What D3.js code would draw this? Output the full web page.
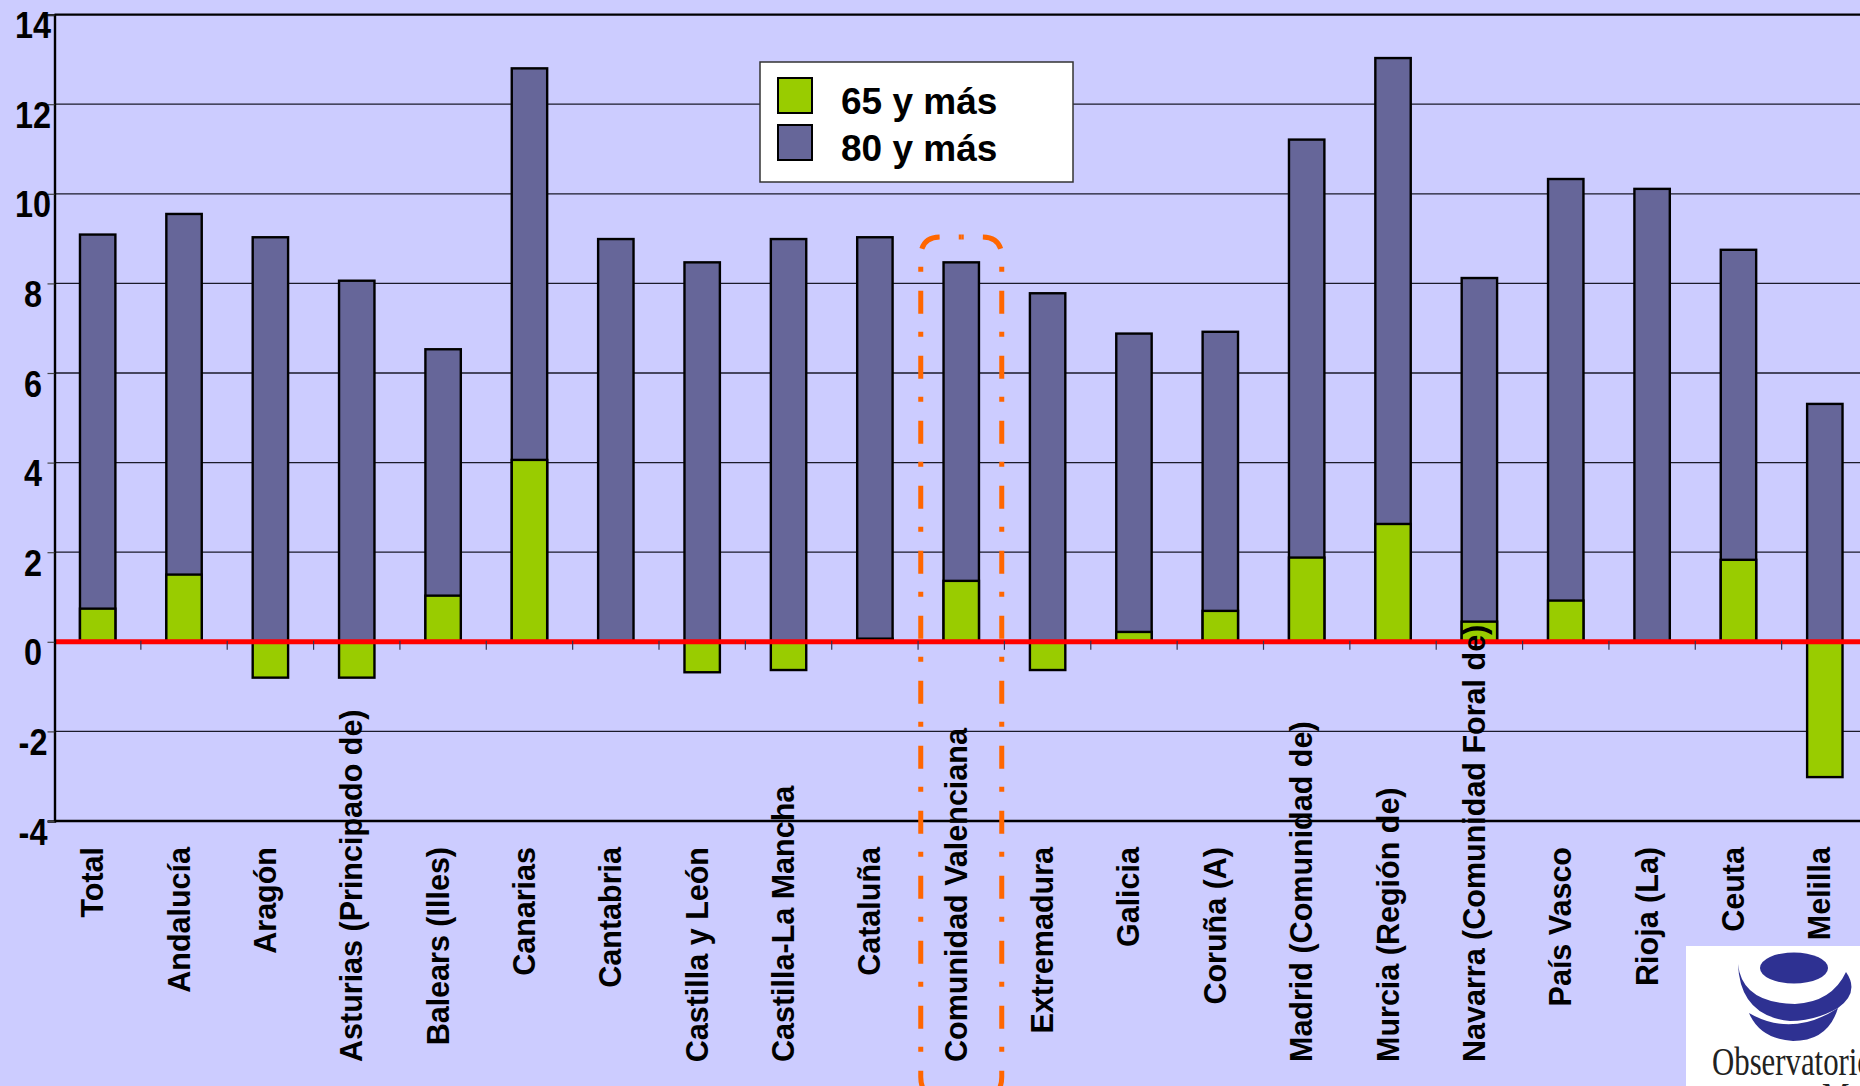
<!DOCTYPE html>
<html>
<head>
<meta charset="utf-8">
<script src="https://cdn.jsdelivr.net/npm/d3@7"></script>
<style>
  html, body { margin: 0; padding: 0; background: #ccccff; overflow: hidden; }
  svg { display: block; }
</style>
</head>
<body>
<svg id="chart" width="1860" height="1086"></svg>
<script>
const categories = ["Total", "Andalucía", "Aragón", "Asturias (Principado de)", "Balears (Illes)",
  "Canarias", "Cantabria", "Castilla y León", "Castilla-La Mancha", "Cataluña",
  "Comunidad Valenciana", "Extremadura", "Galicia", "Coruña (A)", "Madrid (Comunidad de)",
  "Murcia (Región de)", "Navarra (Comunidad Foral de)", "País Vasco", "Rioja (La)", "Ceuta", "Melilla"];
const v65 = [0.74, 1.50, -0.80, -0.80, 1.03, 4.06, 0, -0.68, -0.63, 0.07,
  1.36, -0.63, 0.22, 0.69, 1.88, 2.63, 0.45, 0.92, 0, 1.83, -3.02];
const v80 = [9.09, 9.55, 9.03, 8.06, 6.53, 12.80, 8.99, 8.47, 8.99, 9.03,
  8.47, 7.78, 6.88, 6.92, 11.21, 13.03, 8.12, 10.33, 10.11, 8.75, 5.31];
const yTicks = [-4, -2, 0, 2, 4, 6, 8, 10, 12, 14];
const yTickLabels = ["-4", "-2", "0", "2", "4", "6", "8", "10", "12", "14"];
const seriesNames = ["65 y más", "80 y más"];
const highlighted = "Comunidad Valenciana";

const W = 1860, H = 1086;
const FONT = "'Liberation Sans', Arial, Helvetica, sans-serif";
const C_GREEN = "#99cc00", C_PURPLE = "#666699", C_BG = "#ccccff";

const svg = d3.select("#chart");
svg.append("rect").attr("width", W).attr("height", H).attr("fill", C_BG);

const x = d3.scaleBand().domain(categories).range([54.5, 1868]).padding(0);
const y = d3.scaleLinear().domain([-4, 14]).range([821, 14.6]);
const barW = x.bandwidth() * 0.41;
const plotL = x.range()[0], plotR = x.range()[1];

// gridlines
svg.append("g").selectAll("line").data(yTicks.filter(t => t > -4 && t < 14)).join("line")
  .attr("x1", plotL).attr("x2", plotR)
  .attr("y1", d => y(d)).attr("y2", d => y(d))
  .attr("stroke", "#1a1a2a").attr("stroke-width", 1.3);

const rows = categories.map((c, i) => ({ c, a: v65[i], b: v80[i] }));

function barRect(sel, key, fill) {
  sel.attr("x", d => x(d.c) + (x.bandwidth() - barW) / 2)
    .attr("width", barW)
    .attr("y", d => y(Math.max(0, d[key])))
    .attr("height", d => Math.abs(y(d[key]) - y(0)))
    .attr("fill", fill).attr("stroke", "#000").attr("stroke-width", 2.4);
}
svg.append("g").selectAll("rect").data(rows).join("rect").call(barRect, "b", C_PURPLE);
svg.append("g").selectAll("rect").data(rows.filter(d => d.a !== 0)).join("rect").call(barRect, "a", C_GREEN);

// red zero line
svg.append("line").attr("x1", plotL).attr("x2", plotR).attr("y1", y(0)).attr("y2", y(0))
  .attr("stroke", "#ff0000").attr("stroke-width", 5);

// category ticks at band boundaries
svg.append("g").selectAll("line").data(categories.slice(1)).join("line")
  .attr("x1", d => x(d)).attr("x2", d => x(d))
  .attr("y1", y(0) - 1).attr("y2", y(0) + 8)
  .attr("stroke", "#333355").attr("stroke-width", 1.2);

// frame: top, bottom and left axis
svg.append("line").attr("x1", plotL).attr("x2", plotR).attr("y1", y(14)).attr("y2", y(14))
  .attr("stroke", "#000").attr("stroke-width", 2.2);
svg.append("line").attr("x1", plotL).attr("x2", plotR).attr("y1", y(-4)).attr("y2", y(-4))
  .attr("stroke", "#000").attr("stroke-width", 2.4);

const yAxis = d3.axisLeft(y).tickValues(yTicks).tickSize(7)
  .tickFormat(d => yTickLabels[yTicks.indexOf(d)]);
const ga = svg.append("g").attr("transform", `translate(${plotL},0)`).call(yAxis);
ga.select(".domain").attr("stroke", "#000").attr("stroke-width", 2.4);
ga.selectAll(".tick line").attr("stroke", "#444").attr("stroke-width", 1.2);
ga.selectAll(".tick text")
  .attr("x", null).attr("dy", null)
  .attr("transform", "translate(-21.5,23) scale(0.9,1.04)")
  .attr("text-anchor", "middle")
  .attr("fill", "#000")
  .style("font-family", FONT).style("font-weight", "bold").style("font-size", "36px");

// category labels (rotated)
const labelTop = 847, labelBottomMax = 1072, labelBottomShift = 1062;
const labels = svg.append("g").selectAll("text").data(categories).join("text")
  .text(d => d)
  .style("font-family", FONT).style("font-weight", "bold").style("font-size", "30.5px")
  .attr("fill", "#000");
labels.each(function (d) {
  const len = this.getComputedTextLength();
  const cx = x(d) + x.bandwidth() / 2 + 5.5;
  if (labelTop + len > labelBottomMax) {
    d3.select(this).attr("text-anchor", "start")
      .attr("transform", `translate(${cx},${labelBottomShift}) rotate(-90)`);
  } else {
    d3.select(this).attr("text-anchor", "end")
      .attr("transform", `translate(${cx},${labelTop}) rotate(-90)`);
  }
});

// highlight box (orange dash-dot, rounded)
(function () {
  const cx = x(highlighted) + x.bandwidth() / 2;
  const half = 40.5, r = 20, top = 237, bot = 1097;
  const mk = s => {
    const xo = cx + s * half;
    return `M${cx},${top} L${xo - s * r},${top} Q${xo},${top} ${xo},${top + r} ` +
      `L${xo},${bot - r} Q${xo},${bot} ${xo - s * r},${bot} L${cx},${bot}`;
  };
  [-1, 1].forEach(s => svg.append("path").attr("d", mk(s))
    .attr("fill", "none").attr("stroke", "#ff6600").attr("stroke-width", 5)
    .attr("stroke-dasharray", "5 19 23 18").attr("stroke-dashoffset", 2.5));
})();

// legend
const lg = svg.append("g");
lg.append("rect").attr("x", 760).attr("y", 62).attr("width", 313).attr("height", 120)
  .attr("fill", "#fff").attr("stroke", "#333").attr("stroke-width", 1.5);
const legendItems = [{ name: seriesNames[0], color: C_GREEN, y: 78 }, { name: seriesNames[1], color: C_PURPLE, y: 125 }];
legendItems.forEach(it => {
  lg.append("rect").attr("x", 778).attr("y", it.y).attr("width", 34).attr("height", 35)
    .attr("fill", it.color).attr("stroke", "#000").attr("stroke-width", 2);
  lg.append("text").attr("x", 841).attr("y", it.y + 36).text(it.name)
    .style("font-family", FONT).style("font-weight", "bold").style("font-size", "37px").attr("fill", "#000");
});

// logo (bottom-right)
const logo = svg.append("g");
logo.append("rect").attr("x", 1686).attr("y", 946).attr("width", 180).attr("height", 150).attr("fill", "#fff");
const LB = "#2e3192";
logo.append("ellipse").attr("cx", 1794).attr("cy", 968).attr("rx", 34).attr("ry", 15.5).attr("fill", LB);
logo.append("path").attr("fill", LB)
  .attr("d", "M1738,964 Q1742,1003 1795,1004 Q1832,1002 1846,972 Q1860,992 1838,1008 Q1815,1021 1790,1021 Q1740,1016 1738,964 Z");
logo.append("path").attr("fill", LB)
  .attr("d", "M1749,1013 Q1792,1038 1838,1008 Q1828,1041 1793,1041 Q1760,1039 1749,1013 Z");
logo.append("text").attr("transform", "translate(1712,1075) scale(0.77,1)").text("Observatorio")
  .style("font-family", "'Liberation Serif', 'Times New Roman', serif").style("font-size", "40px").attr("fill", "#222");
logo.append("text").attr("transform", "translate(1822,1110) scale(0.77,1)").text("Mayores")
  .style("font-family", "'Liberation Serif', 'Times New Roman', serif").style("font-size", "40px").attr("fill", "#222");
</script>
</body>
</html>
